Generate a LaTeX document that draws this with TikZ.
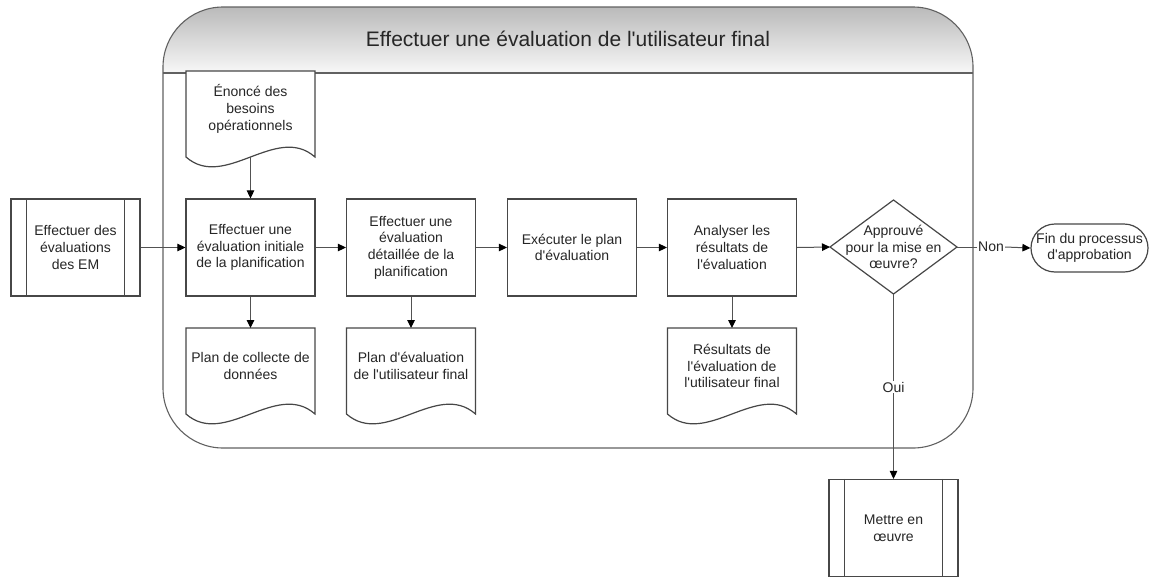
\documentclass[tikz,border=0pt]{standalone}
\usepackage{fontspec}
\newfontfamily\lsans{Liberation Sans}
\usetikzlibrary{arrows.meta,calc}
\pgfdeclarelayer{background}
\pgfsetlayers{background,main}
\newcommand\docoutline[1]{%
  \filldraw[docline] ($(#1.south west)+(0,10)$) -- (#1.north west) -- (#1.north east) -- ($(#1.south east)+(0,10)$)
  .. controls ($(#1.south west)!0.7!(#1.south east)+(0,-24)$) and ($(#1.south west)!0.3!(#1.south east)+(0,44)$) .. ($(#1.south west)+(0,10)$) -- cycle;}
\begin{document}
\begin{tikzpicture}[x=1pt,y=-1pt,
  font=\lsans\fontsize{14}{16.7}\selectfont,
  box/.style={draw=black!72, line width=1.2pt, fill=white, minimum width=129pt, minimum height=97pt,
    inner sep=1pt, align=center, text=black!85},
  docbody/.style={minimum width=129pt, minimum height=76pt, inner sep=1pt, outer sep=0pt,
    align=center, text=black!85},
  docline/.style={draw=black!72, line width=1.2pt, fill=white},
  boxline/.style={draw=black!72, line width=1.2pt},
  plain/.style={draw=black!68, line width=1pt},
  conn/.style={plain, -{Triangle[length=8pt,width=7.5pt,color=black]}},
  lbl/.style={inner sep=1pt, text=black!85},
  container/.style={draw=black!62, line width=1.1pt, rounded corners=60pt,
    minimum width=810pt, minimum height=441pt, inner sep=0pt, outer sep=0pt},
  terminal/.style={draw=black!72, line width=1.2pt, fill=white, rounded corners=24pt,
    minimum width=117pt, minimum height=48pt, inner xsep=2pt, inner ysep=1pt, align=center, text=black!85}
]
\useasboundingbox (0,0) rectangle (1149,576);

% container
\begin{pgfonlayer}{background}
\fill[white] (0,0) rectangle (1149,576);
\coordinate (cnw) at (163,7);
\coordinate (cse) at (973,448);
\coordinate (hdr) at (973,73);
\begin{scope}
  \clip[rounded corners=60pt] (cnw) rectangle (cse);
  \shade[sharp corners, top color=black!27, bottom color=black!3] (cnw) rectangle (hdr);
\end{scope}
\node[container] (cont) at (568,227.5) {};
\draw[draw=black!62, line width=1.1pt] (cnw |- hdr) -- (hdr);
\end{pgfonlayer}
\node[font=\lsans\fontsize{21}{25}\selectfont, text=black!85] (title) at (568,39) {Effectuer une évaluation de l'utilisateur final};

% process boxes
\node[box] (em) at (75.5,247.5) {Effectuer des\\évaluations\\des EM};
\draw[boxline] ([xshift=16pt]em.north west) -- ([xshift=16pt]em.south west);
\draw[boxline] ([xshift=-16pt]em.north east) -- ([xshift=-16pt]em.south east);

\node[box] (b1) at (250.5,247.5) {Effectuer une\\évaluation initiale\\de la planification};
\node[box] (b2) at (411,247.5) {Effectuer une\\évaluation\\détaillée de la\\planification};
\node[box] (b3) at (572,247.5) {Exécuter le plan\\d'évaluation};
\node[box] (b4) at (732,247.5) {Analyser les\\résultats de\\l'évaluation};

% decision
\node[minimum width=127pt, minimum height=94pt, inner sep=0pt, outer sep=0pt, align=center, text=black!85]
  (dia) at (893.5,247) {Approuvé\\pour la mise en\\œuvre?};
\begin{pgfonlayer}{background}
\filldraw[docline] (dia.north) -- (dia.east) -- (dia.south) -- (dia.west) -- cycle;
\end{pgfonlayer}

% terminal
\node[terminal] (fin) at (1089.5,248) {Fin du processus\\d'approbation};

% implement
\node[box] (mettre) at (893.5,528) {Mettre en\\œuvre};
\draw[boxline] ([xshift=16pt]mettre.north west) -- ([xshift=16pt]mettre.south west);
\draw[boxline] ([xshift=-16pt]mettre.north east) -- ([xshift=-16pt]mettre.south east);

% documents
\node[docbody] (enonce) at (250.5,109) {Énoncé des\\besoins\\opérationnels};
\node[docbody] (d1) at (250.5,366) {Plan de collecte de\\données};
\node[docbody] (d2) at (411,366) {Plan d'évaluation\\de l'utilisateur final};
\node[docbody] (d3) at (732,366) {Résultats de\\l'évaluation de\\l'utilisateur final};
\begin{pgfonlayer}{background}
\docoutline{enonce}
\docoutline{d1}
\docoutline{d2}
\docoutline{d3}
\end{pgfonlayer}

% labels
\node[lbl] (non) at (991,247) {Non};
\node[lbl] (oui) at (893.5,387) {Oui};

% connectors
\draw[conn] (em.east) -- (b1.west);
\draw[conn] (b1.east) -- (b2.west);
\draw[conn] (b2.east) -- (b3.west);
\draw[conn] (b3.east) -- (b4.west);
\draw[conn] (b4.east) -- (dia.west);
\draw[plain] (dia.east) -- (non.west);
\draw[conn] (non.east) -- (fin.west);
\draw[plain] (dia.south) -- (oui.north);
\draw[conn] (oui.south) -- (mettre.north);
\draw[conn] ($(enonce.south)+(0,10)$) -- (b1.north);
\draw[conn] (b1.south) -- (d1.north);
\draw[conn] (b2.south) -- (d2.north);
\draw[conn] (b4.south) -- (d3.north);
\end{tikzpicture}
\end{document}
